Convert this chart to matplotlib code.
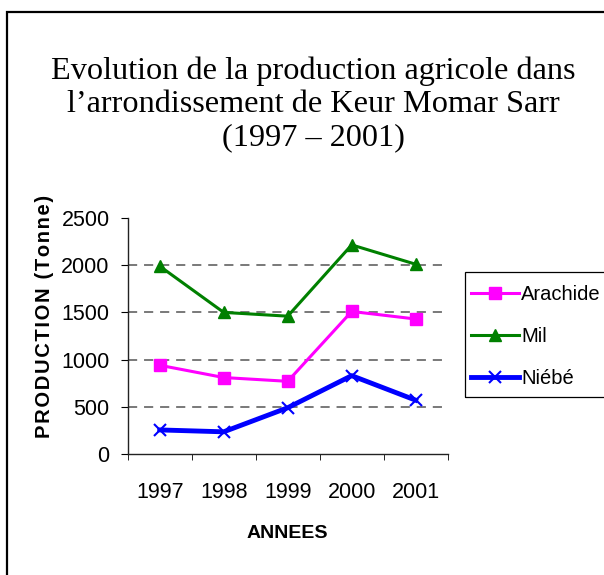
import matplotlib.pyplot as plt
from matplotlib.lines import Line2D
from matplotlib.patches import Rectangle

# production annuelle (tonnes)
annees = ['1997', '1998', '1999', '2000', '2001']
arachide = [940, 810, 770, 1510, 1430]
mil = [1990, 1500, 1460, 2215, 2010]
niebe = [255, 235, 490, 830, 570]

W, H = 604, 575
fig = plt.figure(figsize=(W / 100, H / 100), dpi=100)
ax = fig.add_axes([127.7 / W, 1 - 454 / H, 320 / W, 236 / H])

sans = ['Liberation Sans', 'DejaVu Sans']

x = range(len(annees))
ax.plot(x, arachide, color='#ff00ff', lw=2.2, marker='s', ms=8, label='Arachide')
ax.plot(x, mil, color='#008000', lw=2.2, marker='^', ms=9, label='Mil')
ax.plot(x, niebe, color='#0000ff', lw=3.5, marker='x', ms=9, mew=1.5, label='Niébé')

ax.set_xlim(-0.5, len(annees) - 0.5)
ax.set_ylim(0, 2500)
ax.set_yticks([0, 500, 1000, 1500, 2000, 2500])
ax.set_xticks(list(x))
ax.set_xticks([i - 0.5 for i in range(len(annees) + 1)], minor=True)
ax.set_xticklabels(annees, family=sans, fontsize=15.5)
ax.set_yticklabels(['0', '500', '1000', '1500', '2000', '2500'], family=sans, fontsize=15.5)
ax.tick_params(axis='x', which='major', length=0, pad=20)
ax.tick_params(axis='x', which='minor', length=4, direction='out')
ax.tick_params(axis='y', length=5, direction='out', pad=8)

for v in [500, 1000, 1500, 2000]:
    ax.axhline(v, color='#555555', lw=1.1, ls=(0, (6, 4.5)), zorder=0)

for s in ['top', 'right']:
    ax.spines[s].set_visible(False)
for s in ['left', 'bottom']:
    ax.spines[s].set_color('#222222')
    ax.spines[s].set_linewidth(1)

# titre
fig.text(313 / W, 1 - 104.5 / H,
         "Evolution de la production agricole dans\n"
         "l\u2019arrondissement de Keur Momar Sarr\n(1997 \u2013 2001)",
         ha='center', va='center', multialignment='center',
         family=['Liberation Serif', 'DejaVu Serif'], fontsize=23.2, linespacing=1.2)

fig.text(45 / W, 1 - 316 / H, '\u200a'.join('PRODUCTION (Tonne)'), rotation=90,
         ha='center', va='center', family=sans, fontsize=14.5, fontweight='bold')
fig.text(287 / W, 1 - 534 / H, 'ANNEES', ha='center', va='center',
         family=sans, fontsize=14, fontweight='bold')

# légende
handles = [
    Line2D([], [], color='#ff00ff', lw=2.2, marker='s', ms=8),
    Line2D([], [], color='#008000', lw=2.2, marker='^', ms=9),
    Line2D([], [], color='#0000ff', lw=3.5, marker='x', ms=9, mew=1.5),
]
fig.legend(handles, ['Arachide', 'Mil', 'Niébé'], loc='upper left',
           bbox_to_anchor=(461 / W, 1 - 275 / H), frameon=False,
           prop={'family': sans, 'size': 14.5}, handlelength=2.4,
           handletextpad=0.1, labelspacing=1.15, borderpad=0)
fig.patches.append(Rectangle((465 / W, 1 - 397 / H), 160 / W, 125 / H,
                             transform=fig.transFigure, fill=False,
                             edgecolor='black', lw=0.9))

# cadre
fig.patches.append(Rectangle((7.5 / W, -0.1), 1.2, 1 - 11.5 / H + 0.1,
                             transform=fig.transFigure, fill=False,
                             edgecolor='black', lw=1.6))

fig.savefig('out.png', dpi=100)
